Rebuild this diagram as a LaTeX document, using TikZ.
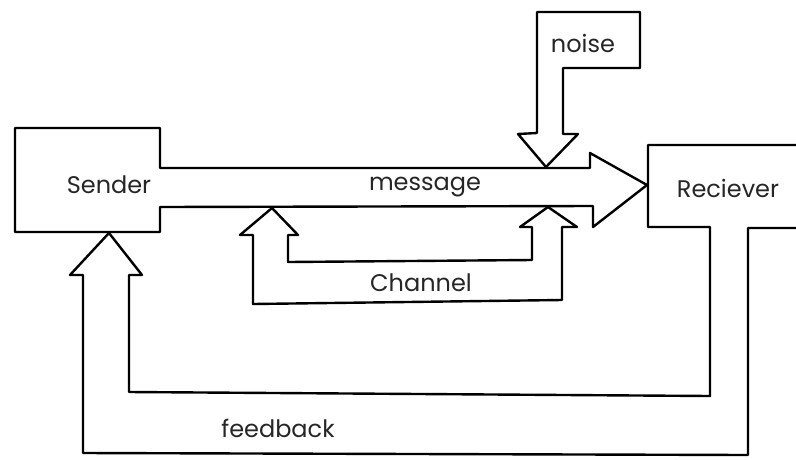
\documentclass[tikz,border=0pt]{standalone}
\usepackage{fontspec}
\setmainfont{Poppins}
\begin{document}
\begin{tikzpicture}[x=1pt,y=-1pt,
  outline/.style={draw=black,line width=2.4pt,line join=round,line cap=round},
  lbl/.style={font=\fontsize{24}{26}\selectfont,text=black!85,inner sep=0pt}]
\useasboundingbox (0,0) rectangle (796,459);
\fill[white] (0,0) rectangle (796,459);

% Sender box merged with the message arrow
\draw[outline] (160,168) -- (590,168) -- (590,153) -- (647,185) -- (593,227)
  -- (593,206) -- (160,207) -- (160,232) -- (15,232) -- (15,128) -- (160,128) -- cycle;

% noise box with its arrow pointing down onto the message
\draw[outline] (537,133) -- (537,12) -- (640,12) -- (640,68) -- (563,68)
  -- (563,134) -- (578,134) -- (546,167) -- (518,134) -- cycle;

% Receiver box continuing into the feedback arrow back to the sender
\draw[outline] (796,145) -- (648,145) -- (648,227) -- (710,227) -- (710,396)
  -- (129,392) -- (129,275) -- (142,275) -- (109,233) -- (70,275) -- (83,275)
  -- (83,453) -- (748,455) -- (748,228) -- (796,228);

% channel: U-shaped double arrow under the message
\draw[outline] (272,208) -- (298,235) -- (288,235) -- (288,262) -- (532,260)
  -- (532,227) -- (520,227) -- (548,207) -- (577,227) -- (562,227)
  -- (562,300) -- (253,304) -- (253,235) -- (240,235) -- cycle;

% labels
\node[lbl] (sender)   at (109,185) {Sender};
\node[lbl] (message)  at (425,187) {message};
\node[lbl] (noise)    at (583,43)  {noise};
\node[lbl] (receiver) at (728,188) {Reciever};
\node[lbl] (channel)  at (421,283) {Channel};
\node[lbl] (feedback) at (278,428) {feedback};
\end{tikzpicture}
\end{document}
